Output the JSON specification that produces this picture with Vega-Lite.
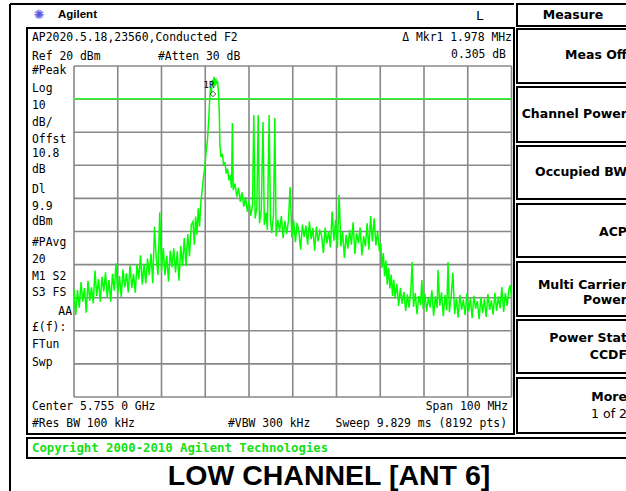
{
  "$schema": "https://vega.github.io/schema/vega-lite/v6.json",
  "width": 626,
  "height": 491,
  "padding": 0,
  "autosize": {"type": "none"},
  "background": "white",
  "config": {"view": {"stroke": null}},
  "datasets": {
    "frameLines": [
      {"f": 5690.37, "p": 38.73, "f2": 5690.37, "p2": -111},
      {"f": 5690.37, "p": 38.73, "f2": 5805.57, "p2": 38.73}
    ],
    "boxes": [
      {"name": "display", "f": 5694.26, "p": 31.48, "f2": 5805.57, "p2": -91.18},
      {"name": "copyright", "f": 5694.26, "p": -92.39, "f2": 5834.37, "p2": -98.43},
      {"name": "Measure", "f": 5806.26, "p": 38.73, "f2": 5834.37, "p2": 32.09},
      {"name": "Meas Off", "f": 5806.26, "p": 31.18, "f2": 5834.37, "p2": 14.86},
      {"name": "Channel Power", "f": 5806.26, "p": 13.66, "f2": 5834.37, "p2": -2.96},
      {"name": "Occupied BW", "f": 5806.26, "p": -4.17, "f2": 5834.37, "p2": -20.18},
      {"name": "ACP", "f": 5806.26, "p": -21.69, "f2": 5834.37, "p2": -37.70},
      {"name": "Multi Carrier", "f": 5806.26, "p": -39.21, "f2": 5834.37, "p2": -55.53},
      {"name": "Power Stat", "f": 5806.26, "p": -56.74, "f2": 5834.37, "p2": -72.75},
      {"name": "More", "f": 5806.26, "p": -74.26, "f2": 5834.37, "p2": -90.88}
    ],
    "gridV": [
      {"f": 5705, "p": 20, "p2": -80}, {"f": 5715, "p": 20, "p2": -80}, {"f": 5725, "p": 20, "p2": -80},
      {"f": 5735, "p": 20, "p2": -80}, {"f": 5745, "p": 20, "p2": -80}, {"f": 5755, "p": 20, "p2": -80},
      {"f": 5765, "p": 20, "p2": -80}, {"f": 5775, "p": 20, "p2": -80}, {"f": 5785, "p": 20, "p2": -80},
      {"f": 5795, "p": 20, "p2": -80}, {"f": 5805, "p": 20, "p2": -80}
    ],
    "gridH": [
      {"p": 20, "f": 5705, "f2": 5805}, {"p": 10, "f": 5705, "f2": 5805}, {"p": 0, "f": 5705, "f2": 5805},
      {"p": -10, "f": 5705, "f2": 5805}, {"p": -20, "f": 5705, "f2": 5805}, {"p": -30, "f": 5705, "f2": 5805},
      {"p": -40, "f": 5705, "f2": 5805}, {"p": -50, "f": 5705, "f2": 5805}, {"p": -60, "f": 5705, "f2": 5805},
      {"p": -70, "f": 5705, "f2": 5805}, {"p": -80, "f": 5705, "f2": 5805}
    ],
    "displayLine": [{"p": 10.1, "f": 5705, "f2": 5805}],
    "trace": [
      {"f": 5705.0, "p": -47.5}, {"f": 5705.4, "p": -55.2}, {"f": 5705.8, "p": -47.7}, {"f": 5706.2, "p": -53.0},
      {"f": 5706.6, "p": -45.3}, {"f": 5707.0, "p": -51.2}, {"f": 5707.4, "p": -47.1}, {"f": 5707.8, "p": -54.5},
      {"f": 5708.2, "p": -44.9}, {"f": 5708.6, "p": -50.9}, {"f": 5709.0, "p": -46.9}, {"f": 5709.4, "p": -51.7},
      {"f": 5709.8, "p": -41.8}, {"f": 5710.2, "p": -49.5}, {"f": 5710.6, "p": -44.4}, {"f": 5711.0, "p": -51.2},
      {"f": 5711.4, "p": -43.7}, {"f": 5711.8, "p": -48.1}, {"f": 5712.2, "p": -42.3}, {"f": 5712.6, "p": -50.0},
      {"f": 5713.0, "p": -44.7}, {"f": 5713.4, "p": -51.2}, {"f": 5713.8, "p": -42.8}, {"f": 5714.2, "p": -47.9},
      {"f": 5714.6, "p": -39.6}, {"f": 5715.0, "p": -48.9}, {"f": 5715.4, "p": -43.5}, {"f": 5715.8, "p": -49.8},
      {"f": 5716.2, "p": -41.5}, {"f": 5716.6, "p": -46.8}, {"f": 5717.0, "p": -42.6}, {"f": 5717.4, "p": -48.4},
      {"f": 5717.8, "p": -40.2}, {"f": 5718.2, "p": -47.1}, {"f": 5718.6, "p": -42.8}, {"f": 5719.0, "p": -48.5},
      {"f": 5719.4, "p": -39.9}, {"f": 5719.8, "p": -44.4}, {"f": 5720.2, "p": -37.2}, {"f": 5720.6, "p": -46.0},
      {"f": 5721.0, "p": -39.8}, {"f": 5721.4, "p": -45.7}, {"f": 5721.8, "p": -38.2}, {"f": 5722.2, "p": -43.2},
      {"f": 5722.6, "p": -36.7}, {"f": 5723.0, "p": -45.6}, {"f": 5723.4, "p": -28.6}, {"f": 5723.8, "p": -38.1},
      {"f": 5724.2, "p": -43.1}, {"f": 5724.6, "p": -24.2}, {"f": 5725.0, "p": -42.0}, {"f": 5725.4, "p": -34.9},
      {"f": 5725.8, "p": -43.2}, {"f": 5726.2, "p": -37.3}, {"f": 5726.6, "p": -45.2}, {"f": 5727.0, "p": -35.8},
      {"f": 5727.4, "p": -40.8}, {"f": 5727.8, "p": -35.1}, {"f": 5728.2, "p": -42.4}, {"f": 5728.6, "p": -36.0},
      {"f": 5729.0, "p": -44.9}, {"f": 5729.4, "p": -34.4}, {"f": 5729.8, "p": -40.5}, {"f": 5730.2, "p": -32.0},
      {"f": 5730.6, "p": -40.5}, {"f": 5731.0, "p": -30.8}, {"f": 5731.4, "p": -37.5}, {"f": 5731.8, "p": -28.0},
      {"f": 5732.2, "p": -27.0}, {"f": 5732.5, "p": -34.0}, {"f": 5732.8, "p": -25.5}, {"f": 5733.1, "p": -31.0},
      {"f": 5733.4, "p": -23.0}, {"f": 5733.7, "p": -28.5}, {"f": 5734.0, "p": -21.0}, {"f": 5734.3, "p": -17.5},
      {"f": 5734.6, "p": -13.5}, {"f": 5734.9, "p": -10.5}, {"f": 5735.2, "p": -6.0}, {"f": 5735.5, "p": -2.5},
      {"f": 5735.8, "p": 4.0}, {"f": 5736.0, "p": 9.5}, {"f": 5736.2, "p": 13.5}, {"f": 5736.4, "p": 12.0},
      {"f": 5736.6, "p": 15.8}, {"f": 5736.8, "p": 14.2}, {"f": 5737.0, "p": 16.7}, {"f": 5737.2, "p": 13.8},
      {"f": 5737.4, "p": 16.2}, {"f": 5737.6, "p": 14.5}, {"f": 5737.8, "p": 15.5}, {"f": 5738.0, "p": 12.5},
      {"f": 5738.2, "p": 6.5}, {"f": 5738.35, "p": -4.0}, {"f": 5738.6, "p": -7.5}, {"f": 5738.9, "p": -6.5},
      {"f": 5739.2, "p": -10.0}, {"f": 5739.5, "p": -9.0}, {"f": 5739.8, "p": -12.5}, {"f": 5740.1, "p": -11.0},
      {"f": 5740.4, "p": -14.5}, {"f": 5740.7, "p": -13.0}, {"f": 5741.0, "p": -16.8}, {"f": 5741.2, "p": 2.8},
      {"f": 5741.4, "p": -17.5}, {"f": 5741.8, "p": -15.5}, {"f": 5742.2, "p": -19.5}, {"f": 5742.6, "p": -16.8},
      {"f": 5743.0, "p": -21.0}, {"f": 5743.4, "p": -18.2}, {"f": 5743.8, "p": -22.5}, {"f": 5744.2, "p": -19.6},
      {"f": 5744.6, "p": -24.0}, {"f": 5745.0, "p": -20.8}, {"f": 5745.4, "p": -25.2}, {"f": 5745.8, "p": -22.0},
      {"f": 5746.1, "p": 5.2}, {"f": 5746.4, "p": -26.0}, {"f": 5746.8, "p": -22.7}, {"f": 5747.1, "p": 5.2},
      {"f": 5747.4, "p": -27.5}, {"f": 5747.8, "p": -23.6}, {"f": 5748.2, "p": 3.1}, {"f": 5748.5, "p": -28.0},
      {"f": 5748.9, "p": -24.3}, {"f": 5749.2, "p": -29.5}, {"f": 5749.6, "p": 5.2}, {"f": 5749.9, "p": -26.2},
      {"f": 5750.2, "p": -30.5}, {"f": 5750.6, "p": -25.0}, {"f": 5750.9, "p": 4.3}, {"f": 5751.2, "p": -31.5},
      {"f": 5751.6, "p": -26.5}, {"f": 5752.0, "p": -29.8}, {"f": 5752.4, "p": -25.3}, {"f": 5752.8, "p": -32.0},
      {"f": 5753.2, "p": -26.8}, {"f": 5753.6, "p": -30.7}, {"f": 5754.0, "p": -27.0}, {"f": 5754.4, "p": -16.6},
      {"f": 5754.8, "p": -31.8}, {"f": 5755.2, "p": -26.5}, {"f": 5755.6, "p": -33.2}, {"f": 5756.0, "p": -27.4},
      {"f": 5756.4, "p": -30.0}, {"f": 5756.8, "p": -35.5}, {"f": 5757.2, "p": -27.9}, {"f": 5757.6, "p": -31.6},
      {"f": 5758.0, "p": -28.2}, {"f": 5758.4, "p": -34.0}, {"f": 5758.8, "p": -27.0}, {"f": 5759.2, "p": -32.3},
      {"f": 5759.6, "p": -29.0}, {"f": 5760.0, "p": -35.8}, {"f": 5760.4, "p": -28.5}, {"f": 5760.8, "p": -33.0},
      {"f": 5761.2, "p": -29.8}, {"f": 5761.6, "p": -31.2}, {"f": 5762.0, "p": -36.5}, {"f": 5762.4, "p": -28.8},
      {"f": 5762.8, "p": -33.6}, {"f": 5763.2, "p": -30.0}, {"f": 5763.6, "p": -34.8}, {"f": 5764.0, "p": -24.0},
      {"f": 5764.4, "p": -32.8}, {"f": 5764.8, "p": -26.5}, {"f": 5765.2, "p": -35.0}, {"f": 5765.6, "p": -19.0},
      {"f": 5766.0, "p": -34.5}, {"f": 5766.4, "p": -30.2}, {"f": 5766.8, "p": -38.0}, {"f": 5767.2, "p": -31.0},
      {"f": 5767.6, "p": -35.2}, {"f": 5768.0, "p": -29.5}, {"f": 5768.4, "p": -34.0}, {"f": 5768.8, "p": -27.2},
      {"f": 5769.2, "p": -36.8}, {"f": 5769.6, "p": -30.5}, {"f": 5770.0, "p": -33.5}, {"f": 5770.4, "p": -28.8},
      {"f": 5770.8, "p": -37.2}, {"f": 5771.2, "p": -31.4}, {"f": 5771.6, "p": -34.5}, {"f": 5772.0, "p": -27.5},
      {"f": 5772.4, "p": -35.5}, {"f": 5772.8, "p": -25.3}, {"f": 5773.2, "p": -33.0}, {"f": 5773.6, "p": -26.0},
      {"f": 5774.0, "p": -34.2}, {"f": 5774.4, "p": -30.0}, {"f": 5774.8, "p": -36.0}, {"f": 5775.1, "p": -33.5},
      {"f": 5775.4, "p": -41.0}, {"f": 5775.7, "p": -36.5}, {"f": 5776.0, "p": -43.5}, {"f": 5776.3, "p": -38.8},
      {"f": 5776.6, "p": -46.0}, {"f": 5776.9, "p": -41.0}, {"f": 5777.2, "p": -47.2}, {"f": 5777.5, "p": -43.0},
      {"f": 5777.8, "p": -49.5}, {"f": 5778.1, "p": -44.5}, {"f": 5778.4, "p": -50.2}, {"f": 5778.8, "p": -45.8},
      {"f": 5779.2, "p": -52.5}, {"f": 5779.6, "p": -47.0}, {"f": 5780.0, "p": -51.8}, {"f": 5780.4, "p": -48.2},
      {"f": 5780.8, "p": -54.0}, {"f": 5781.2, "p": -49.0}, {"f": 5781.6, "p": -53.0}, {"f": 5782.0, "p": -47.5},
      {"f": 5782.3, "p": -39.2}, {"f": 5782.6, "p": -52.8}, {"f": 5783.0, "p": -48.6}, {"f": 5783.4, "p": -55.0},
      {"f": 5783.8, "p": -49.5}, {"f": 5784.2, "p": -52.2}, {"f": 5784.5, "p": -44.7}, {"f": 5784.8, "p": -53.5},
      {"f": 5785.2, "p": -48.8}, {"f": 5785.6, "p": -54.2}, {"f": 5786.0, "p": -50.0}, {"f": 5786.4, "p": -52.9},
      {"f": 5786.8, "p": -47.8}, {"f": 5787.2, "p": -55.4}, {"f": 5787.6, "p": -49.6}, {"f": 5788.0, "p": -53.1},
      {"f": 5788.2, "p": -41.6}, {"f": 5788.6, "p": -52.4}, {"f": 5789.0, "p": -48.4}, {"f": 5789.4, "p": -55.6},
      {"f": 5789.8, "p": -49.2}, {"f": 5790.2, "p": -53.8}, {"f": 5790.5, "p": -39.2}, {"f": 5790.8, "p": -54.4},
      {"f": 5791.2, "p": -49.9}, {"f": 5791.6, "p": -42.5}, {"f": 5792.0, "p": -54.9}, {"f": 5792.4, "p": -50.3},
      {"f": 5792.8, "p": -56.0}, {"f": 5793.2, "p": -49.1}, {"f": 5793.6, "p": -53.6}, {"f": 5794.0, "p": -50.6},
      {"f": 5794.4, "p": -55.3}, {"f": 5794.8, "p": -48.7}, {"f": 5795.2, "p": -54.1}, {"f": 5795.6, "p": -50.2},
      {"f": 5796.0, "p": -56.2}, {"f": 5796.4, "p": -49.4}, {"f": 5796.8, "p": -53.3}, {"f": 5797.2, "p": -51.0},
      {"f": 5797.6, "p": -56.5}, {"f": 5798.0, "p": -49.8}, {"f": 5798.4, "p": -54.6}, {"f": 5798.8, "p": -50.4},
      {"f": 5799.2, "p": -55.8}, {"f": 5799.6, "p": -48.9}, {"f": 5800.0, "p": -53.7}, {"f": 5800.4, "p": -50.8},
      {"f": 5800.8, "p": -55.1}, {"f": 5801.2, "p": -48.5}, {"f": 5801.6, "p": -54.0}, {"f": 5802.0, "p": -49.7},
      {"f": 5802.4, "p": -53.2}, {"f": 5802.8, "p": -46.8}, {"f": 5803.2, "p": -54.3}, {"f": 5803.6, "p": -48.6},
      {"f": 5804.0, "p": -52.5}, {"f": 5804.4, "p": -47.5}, {"f": 5804.7, "p": -46.2}, {"f": 5805.0, "p": -50.0}
    ],
    "monoLeft": [
      {"f": 5695.4, "p": 28.46, "t": "AP2020.5.18,23560,Conducted F2"},
      {"f": 5695.4, "p": 22.72, "t": "Ref 20 dBm"},
      {"f": 5724.2, "p": 22.72, "t": "#Atten 30 dB"},
      {"f": 5695.4, "p": 18.49, "t": "#Peak"},
      {"f": 5695.4, "p": 13.05, "t": "Log"},
      {"f": 5695.4, "p": 7.92, "t": "10"},
      {"f": 5695.4, "p": 2.78, "t": "dB/"},
      {"f": 5695.4, "p": -2.36, "t": "Offst"},
      {"f": 5695.4, "p": -6.59, "t": "10.8"},
      {"f": 5695.4, "p": -11.42, "t": "dB"},
      {"f": 5695.4, "p": -17.46, "t": "Dl"},
      {"f": 5695.4, "p": -22.60, "t": "9.9"},
      {"f": 5695.4, "p": -27.13, "t": "dBm"},
      {"f": 5695.4, "p": -33.47, "t": "#PAvg"},
      {"f": 5695.4, "p": -38.61, "t": "20"},
      {"f": 5695.4, "p": -43.75, "t": "M1  S2"},
      {"f": 5695.4, "p": -48.58, "t": "S3  FS"},
      {"f": 5695.4, "p": -59.15, "t": "£(f):"},
      {"f": 5695.4, "p": -64.29, "t": "FTun"},
      {"f": 5695.4, "p": -69.73, "t": "Swp"},
      {"f": 5695.4, "p": -83.02, "t": "Center 5.755 0 GHz"},
      {"f": 5695.4, "p": -88.16, "t": "#Res BW 100 kHz"},
      {"f": 5740.2, "p": -88.16, "t": "#VBW 300 kHz"}
    ],
    "monoRight": [
      {"f": 5704.54, "p": -54.32, "t": "AA"},
      {"f": 5805.11, "p": 28.46, "t": "Δ Mkr1  1.978 MHz"},
      {"f": 5803.74, "p": 23.32, "t": "0.305 dB"},
      {"f": 5804.2, "p": -83.02, "t": "Span 100 MHz"},
      {"f": 5803.97, "p": -88.16, "t": "Sweep 9.829 ms (8192 pts)"}
    ],
    "monoCenter": [{"f": 5797.8, "p": 35.2, "t": "L"}],
    "softBold": [
      {"f": 5831.4, "p": 23.32, "t": "Meas Off"},
      {"f": 5831.4, "p": 5.6, "t": "Channel Power"},
      {"f": 5831.4, "p": -12.02, "t": "Occupied BW"},
      {"f": 5831.4, "p": -30.15, "t": "ACP"},
      {"f": 5831.4, "p": -46.16, "t": "Multi Carrier"},
      {"f": 5831.4, "p": -50.69, "t": "Power"},
      {"f": 5831.4, "p": -62.18, "t": "Power Stat"},
      {"f": 5831.4, "p": -67.31, "t": "CCDF"},
      {"f": 5831.4, "p": -80.0, "t": "More"}
    ],
    "softRegular": [{"f": 5831.4, "p": -85.14, "t": "1 of 2"}],
    "menuTitle": [{"f": 5819.06, "p": 35.26, "t": "Measure"}],
    "brand": [{"f": 5701.34, "p": 35.41, "t": "Agilent"}],
    "logo": [{"f": 5697.0, "p": 35.41, "t": "✺"}],
    "copyright": [{"f": 5695.4, "p": -95.41, "t": "Copyright 2000-2010 Agilent Technologies"}],
    "caption": [{"f": 5763.29, "p": -103.9, "t": "LOW CHANNEL [ANT 6]"}],
    "markerLabel": [{"f": 5735.86, "p": 14.26, "t": "1R"}],
    "markerPoint": [{"f": 5736.77, "p": 11.54}]
  },
  "encoding": {
    "x": {"field": "f", "type": "quantitative", "scale": {"domain": [5688.086, 5831.171], "nice": false, "zero": false}, "axis": null},
    "y": {"field": "p", "type": "quantitative", "scale": {"domain": [-108.399, 39.94], "nice": false, "zero": false}, "axis": null}
  },
  "layer": [
    {
      "data": {"name": "boxes"},
      "mark": {"type": "rect", "fill": "white", "stroke": "black", "strokeWidth": 2},
      "encoding": {"x2": {"field": "f2"}, "y2": {"field": "p2"}}
    },
    {
      "data": {"name": "frameLines"},
      "mark": {"type": "rule", "color": "black", "strokeWidth": 2},
      "encoding": {"x2": {"field": "f2"}, "y2": {"field": "p2"}}
    },
    {
      "data": {"name": "gridV"},
      "mark": {"type": "rule", "color": "#888888", "strokeWidth": 1.6},
      "encoding": {"y2": {"field": "p2"}}
    },
    {
      "data": {"name": "gridH"},
      "mark": {"type": "rule", "color": "#888888", "strokeWidth": 1.6},
      "encoding": {"x2": {"field": "f2"}}
    },
    {
      "data": {"name": "displayLine"},
      "mark": {"type": "rule", "color": "#2bff2b", "strokeWidth": 1.4},
      "encoding": {"x2": {"field": "f2"}}
    },
    {
      "data": {"name": "trace"},
      "mark": {"type": "line", "color": "#00ff00", "strokeWidth": 1.5}
    },
    {
      "data": {"name": "markerPoint"},
      "mark": {"type": "point", "shape": "diamond", "size": 30, "filled": false, "color": "black", "strokeWidth": 1}
    },
    {
      "data": {"name": "markerLabel"},
      "mark": {"type": "text", "align": "center", "baseline": "middle", "font": "DejaVu Sans Mono", "fontSize": 9, "color": "black"},
      "encoding": {"text": {"field": "t"}}
    },
    {
      "data": {"name": "monoLeft"},
      "mark": {"type": "text", "align": "left", "baseline": "middle", "font": "DejaVu Sans Mono", "fontSize": 11.4, "color": "black"},
      "encoding": {"text": {"field": "t"}}
    },
    {
      "data": {"name": "monoRight"},
      "mark": {"type": "text", "align": "right", "baseline": "middle", "font": "DejaVu Sans Mono", "fontSize": 11.4, "color": "black"},
      "encoding": {"text": {"field": "t"}}
    },
    {
      "data": {"name": "monoCenter"},
      "mark": {"type": "text", "align": "center", "baseline": "middle", "font": "DejaVu Sans Mono", "fontSize": 13, "color": "black"},
      "encoding": {"text": {"field": "t"}}
    },
    {
      "data": {"name": "softBold"},
      "mark": {"type": "text", "align": "right", "baseline": "middle", "font": "DejaVu Sans", "fontWeight": "bold", "fontSize": 12.5, "color": "black"},
      "encoding": {"text": {"field": "t"}}
    },
    {
      "data": {"name": "softRegular"},
      "mark": {"type": "text", "align": "right", "baseline": "middle", "font": "DejaVu Sans", "fontSize": 12.5, "color": "black"},
      "encoding": {"text": {"field": "t"}}
    },
    {
      "data": {"name": "menuTitle"},
      "mark": {"type": "text", "align": "center", "baseline": "middle", "font": "DejaVu Sans", "fontWeight": "bold", "fontSize": 12.5, "color": "black"},
      "encoding": {"text": {"field": "t"}}
    },
    {
      "data": {"name": "brand"},
      "mark": {"type": "text", "align": "left", "baseline": "middle", "font": "Liberation Sans", "fontWeight": "bold", "fontSize": 11.5, "color": "black"},
      "encoding": {"text": {"field": "t"}}
    },
    {
      "data": {"name": "logo"},
      "mark": {"type": "text", "align": "center", "baseline": "middle", "font": "DejaVu Sans", "fontSize": 13, "color": "#5a5ae6"},
      "encoding": {"text": {"field": "t"}}
    },
    {
      "data": {"name": "copyright"},
      "mark": {"type": "text", "align": "left", "baseline": "middle", "font": "DejaVu Sans Mono", "fontWeight": "bold", "fontSize": 12.3, "color": "#14e014"},
      "encoding": {"text": {"field": "t"}}
    },
    {
      "data": {"name": "caption"},
      "mark": {"type": "text", "align": "center", "baseline": "middle", "font": "Liberation Sans", "fontWeight": "bold", "fontSize": 28.5, "color": "black"},
      "encoding": {"text": {"field": "t"}}
    }
  ]
}
